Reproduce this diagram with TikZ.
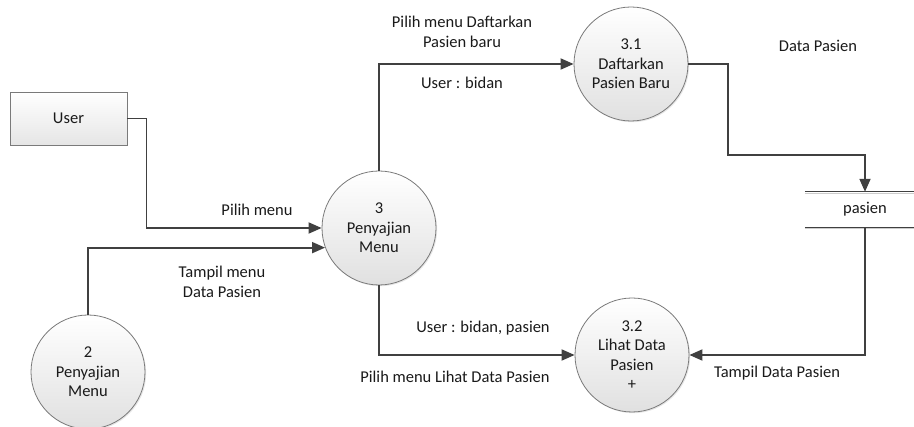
\documentclass[tikz,border=0pt]{standalone}
\usepackage{fontspec}
\setmainfont{Carlito}
\usetikzlibrary{arrows.meta,shadows,calc}
\definecolor{linec}{HTML}{404040}
\definecolor{edgec}{HTML}{7A7A7A}
\definecolor{txtc}{HTML}{1A1A1A}
\begin{document}
\begin{tikzpicture}[x=1pt,y=-1pt,
  every node/.style={font=\fontsize{16.5}{19.5}\selectfont, text=txtc, align=center, inner sep=0pt},
  proc/.style={circle, draw=edgec, line width=0.8pt, minimum size=114pt, top color=white, bottom color=black!12,
     drop shadow={opacity=0.2, shadow xshift=1.2pt, shadow yshift=-1.2pt}},
  ent/.style={rectangle, draw=edgec, line width=0.8pt, minimum width=117pt, minimum height=53pt, top color=white, bottom color=black!10,
     drop shadow={opacity=0.2, shadow xshift=1.2pt, shadow yshift=-1.2pt}},
  flow/.style={draw=linec, line width=1.8pt, -{Triangle[length=13pt,width=11pt]}},
  lbl/.style={}]
\useasboundingbox (0,0) rectangle (914,427);
% store
\node[minimum width=120pt, minimum height=35pt] (store) at (865,209.5) {pasien};
\draw[black!20, line width=1.5pt] ($(store.north west)+(0,1.5)$) -- ($(store.north east)+(0,1.5)$);
\draw[black!20, line width=1.5pt] ($(store.south west)+(0,1.5)$) -- ($(store.south east)+(0,1.5)$);
\draw[linec, line width=1pt] (store.north west) -- (store.north east);
\draw[linec, line width=1pt] (store.south west) -- (store.south east);
% entities and processes
\node[ent] (user) at (68.5,118.5) {User};
\node[proc] (p2) at (88,372) {2\\Penyajian\\Menu};
\node[proc] (p3) at (379,228) {3\\Penyajian\\Menu};
\node[proc] (p31) at (631,64) {3.1\\Daftarkan\\Pasien Baru};
\node[proc] (p32) at (632,355) {3.2\\Lihat Data\\Pasien\\+};
\coordinate (c1) at (728,155);
% flows
\draw[flow] (user.east) -- ++(19,0) |- (p3.west);
\draw[flow] (p2.north) |- (p3.200);
\draw[flow] (p3.north) |- (p31.west);
\draw[flow] (p31.east) -| (c1) -| (store.north);
\draw[flow] (store.south) |- (p32.east);
\draw[flow] (p3.south) |- (p32.west);
% labels
\node[lbl] (l1) at (257,210) {Pilih menu};
\node[lbl] (l2) at (222,282) {Tampil menu\\Data Pasien};
\node[lbl] (l3) at (462,32) {Pilih menu Daftarkan\\Pasien baru};
\node[lbl] (l4) at (462,83) {User : bidan};
\node[lbl] (l5) at (818,46) {Data Pasien};
\node[lbl] (l6) at (777,373) {Tampil Data Pasien};
\node[lbl] (l7) at (483,328) {User : bidan, pasien};
\node[lbl] (l8) at (455,377) {Pilih menu Lihat Data Pasien};
\end{tikzpicture}
\end{document}
